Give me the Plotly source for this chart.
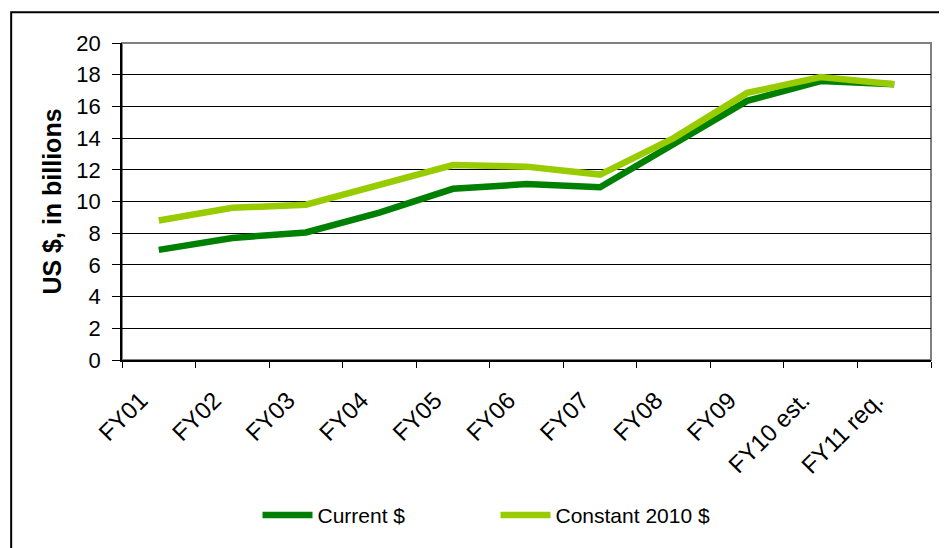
import plotly.graph_objects as go

categories = ["FY01", "FY02", "FY03", "FY04", "FY05", "FY06", "FY07", "FY08", "FY09", "FY10 est.", "FY11 req."]
current_usd = [6.95, 7.7, 8.05, 9.3, 10.8, 11.1, 10.9, 13.6, 16.35, 17.6, 17.4]
constant_2010_usd = [8.8, 9.6, 9.8, 11.0, 12.3, 12.2, 11.7, 14.0, 16.85, 17.85, 17.4]
y_ticks = [0, 2, 4, 6, 8, 10, 12, 14, 16, 18, 20]

FONT = "Arial, 'Liberation Sans', sans-serif"

fig = go.Figure()
fig.add_trace(go.Scatter(x=categories, y=current_usd, mode="lines", name="Current $",
                         line=dict(color="#008000", width=6.5)))
fig.add_trace(go.Scatter(x=categories, y=constant_2010_usd, mode="lines", name="Constant 2010 $",
                         line=dict(color="#99CC00", width=6.5)))

# plot area border (grey) and outer chart frame
fig.add_shape(type="rect", xref="paper", yref="paper", x0=0, x1=1, y0=0, y1=1,
              line=dict(color="#808080", width=2), layer="between")
fig.add_shape(type="rect", xref="paper", yref="paper", x0=-0.137, x1=1.033, y0=-0.65, y1=1.097,
              line=dict(color="black", width=2))

fig.update_layout(
    width=939, height=540,
    margin=dict(l=114, r=16, t=35, b=186),
    paper_bgcolor="white", plot_bgcolor="white",
    font=dict(family=FONT, color="black", size=21),
    showlegend=True,
    legend=dict(orientation="h", x=0.1675, xanchor="left", y=-0.49, yanchor="middle",
                font=dict(size=21, family=FONT), entrywidth=173, entrywidthmode="pixels",
                itemwidth=50, tracegroupgap=0),
    xaxis=dict(type="category", range=[-0.5, 10.5], showgrid=False,
               showline=True, linecolor="black", linewidth=1.5,
               ticks="outside", tickson="boundaries", ticklen=6, tickcolor="black",
               tickangle=-45, ticklabelstandoff=15, ticklabelshift=-18,
               tickfont=dict(size=24, family=FONT)),
    yaxis=dict(range=[0, 20], tickvals=y_ticks, showgrid=True, gridcolor="black", gridwidth=1,
               showline=True, linecolor="black", linewidth=1.5, zeroline=False,
               ticks="outside", ticklen=8, tickcolor="black", ticklabelstandoff=7,
               tickfont=dict(size=22, family=FONT),
               title=dict(text="<b>US $, in billions</b>", font=dict(size=25, family=FONT), standoff=8)),
)

fig.write_html("out.html")
